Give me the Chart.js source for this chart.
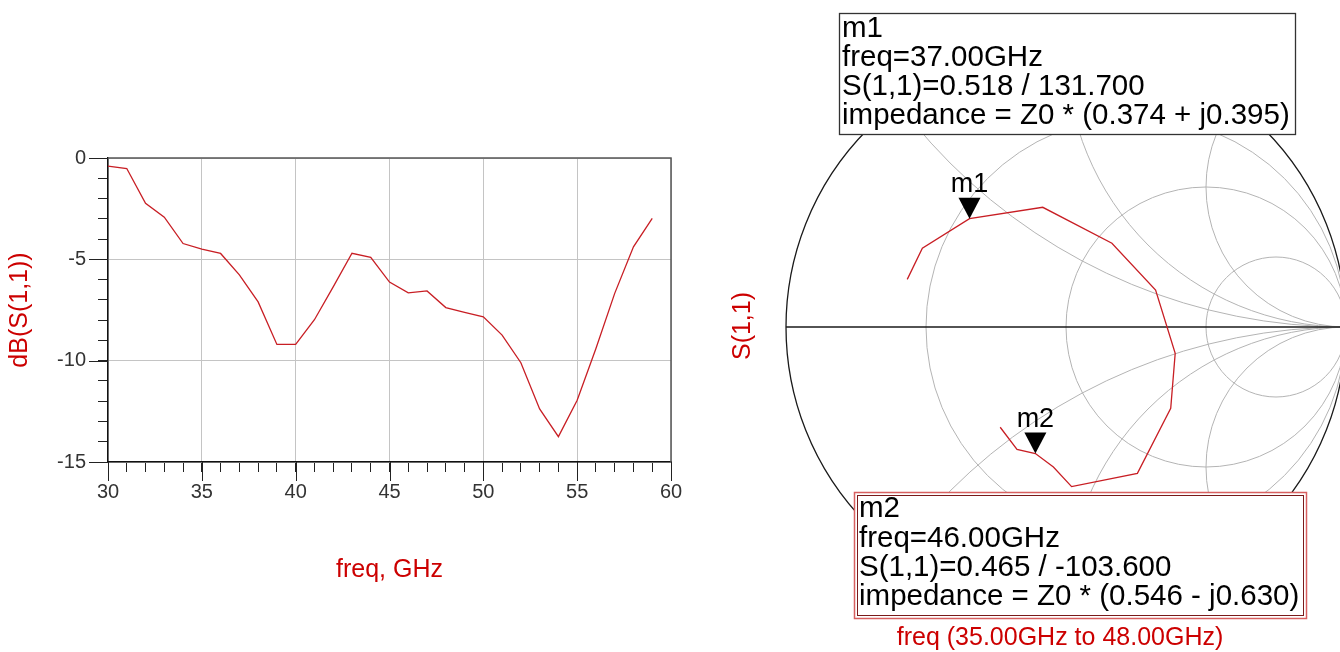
<!DOCTYPE html>
<html>
<head>
<meta charset="utf-8">
<script src="https://cdn.jsdelivr.net/npm/chart.js@4.4.1/dist/chart.umd.min.js"></script>
<style>
html, body { margin: 0; padding: 0; background: #fff; overflow: hidden; width: 1340px; height: 652px; }
#dbChart { position: absolute; left: 0; top: 0; }
#smithChart { position: absolute; left: 700px; top: 0; }
</style>
</head>
<body>
<canvas id="dbChart" width="700" height="652"></canvas>
<canvas id="smithChart" width="660" height="652"></canvas>
<script>
// --- rectangular plot: dB(S(1,1)) vs freq
const freqGHz = [30,31,32,33,34,35,36,37,38,39,40,41,42,43,44,45,46,47,48,49,50,51,52,53,54,55,56,57,58,59];
const dbS11 = [-0.40,-0.52,-2.24,-2.92,-4.22,-4.50,-4.71,-5.77,-7.10,-9.20,-9.20,-7.98,-6.36,-4.70,-4.90,
               -6.12,-6.65,-6.56,-7.38,-7.62,-7.84,-8.74,-10.10,-12.38,-13.75,-11.95,-9.40,-6.68,-4.38,-2.98];
const xTickLabels = [30,35,40,45,50,55,60];
const yTickLabels = [0,-5,-10,-15];

// --- smith chart: S(1,1) from 35 to 48 GHz (real / imag of gamma)
const smithFreq = [35,36,37,38,39,40,41,42,43,44,45,46,47,48];
const s11Re = [-0.567,-0.513,-0.3446,-0.083,0.164,0.320,0.390,0.374,0.255,0.020,-0.045,-0.1093,-0.175,-0.235];
const s11Im = [0.170,0.281,0.3868,0.4275,0.299,0.132,-0.094,-0.290,-0.5225,-0.570,-0.500,-0.4519,-0.437,-0.358];

// markers
const markerName = ['m1','m2'];
const markerFreq = [37,46];
const markerMag = [0.518,0.465];
const markerAng = [131.7,-103.6];
const markerZr = [0.374,0.546];
const markerZx = [0.395,-0.630];

// smith grid
const resCircles = [1/3, 1, 3];
const reactArcs = [0.5, 1, 2];

const RED = '#cc0000';
const LINE_RED = '#c81e24';
const FONT = '"Liberation Sans", Arial, sans-serif';

// ---------- left chart ----------
const plotFrame = {
  id: 'plotFrame',
  afterDraw(chart) {
    const {ctx, chartArea: a, scales: {x, y}} = chart;
    ctx.save();
    ctx.strokeStyle = '#555';
    ctx.lineWidth = 1.5;
    ctx.beginPath();
    ctx.moveTo(a.left, a.top); ctx.lineTo(a.right, a.top); ctx.lineTo(a.right, a.bottom);
    ctx.stroke();
    // longer major ticks
    ctx.strokeStyle = '#222';
    ctx.lineWidth = 1;
    xTickLabels.forEach(v => {
      const p = Math.round(x.getPixelForValue(v)) + 0.5;
      ctx.beginPath(); ctx.moveTo(p, a.bottom); ctx.lineTo(p, a.bottom + 19); ctx.stroke();
    });
    yTickLabels.forEach(v => {
      const p = Math.round(y.getPixelForValue(v)) + 0.5;
      ctx.beginPath(); ctx.moveTo(a.left, p); ctx.lineTo(a.left - 19, p); ctx.stroke();
    });
    ctx.restore();
  }
};

new Chart(document.getElementById('dbChart'), {
  type: 'scatter',
  data: {
    datasets: [{
      data: freqGHz.map((f, i) => ({x: f, y: dbS11[i]})),
      showLine: true,
      borderColor: LINE_RED,
      borderWidth: 1.3,
      pointRadius: 0,
      tension: 0
    }]
  },
  options: {
    responsive: false,
    animation: false,
    layout: { padding: { left: 0, top: 158, right: 29, bottom: 0 } },
    plugins: { legend: { display: false }, tooltip: { enabled: false } },
    scales: {
      x: {
        type: 'linear', min: 30, max: 60,
        afterFit: s => { s.height = 190; },
        ticks: {
          stepSize: 1, autoSkip: false, maxRotation: 0, padding: 8,
          color: '#333', font: { family: FONT, size: 20 },
          callback: v => xTickLabels.includes(v) ? String(v) : ''
        },
        grid: {
          color: c => c.tick && xTickLabels.includes(c.tick.value) ? '#c4c4c4' : 'rgba(0,0,0,0)',
          tickColor: '#222', tickLength: 10, lineWidth: 1
        },
        border: { color: '#111', width: 1.5 },
        title: {
          display: true, text: 'freq, GHz', color: RED,
          font: { family: FONT, size: 25 }, padding: { top: 0, bottom: 67 }
        }
      },
      y: {
        type: 'linear', min: -15, max: 0,
        afterFit: s => { s.width = 108; },
        ticks: {
          stepSize: 1, autoSkip: false, padding: 12,
          color: '#333', font: { family: FONT, size: 20 },
          callback: v => yTickLabels.includes(v) ? String(v) : ''
        },
        grid: {
          color: c => c.tick && yTickLabels.includes(c.tick.value) ? '#c4c4c4' : 'rgba(0,0,0,0)',
          tickColor: '#222', tickLength: 10, lineWidth: 1
        },
        border: { color: '#111', width: 1.5 },
        title: {
          display: true, text: 'dB(S(1,1))', color: RED,
          font: { family: FONT, size: 25 }, padding: { top: 5, bottom: 0 }
        }
      }
    }
  },
  plugins: [plotFrame]
});

// ---------- smith chart ----------
const OFF = 700; // canvas left offset on the page

function markerText(i) {
  const zs = markerZx[i] < 0 ? ' - j' : ' + j';
  return [
    markerName[i],
    'freq=' + markerFreq[i].toFixed(2) + 'GHz',
    'S(1,1)=' + markerMag[i].toFixed(3) + ' / ' + markerAng[i].toFixed(3),
    'impedance = Z0 * (' + markerZr[i].toFixed(3) + zs + Math.abs(markerZx[i]).toFixed(3) + ')'
  ];
}
const markerGamma = markerMag.map((m, i) => ({
  x: m * Math.cos(markerAng[i] * Math.PI / 180),
  y: m * Math.sin(markerAng[i] * Math.PI / 180)
}));

const smithGrid = {
  id: 'smithGrid',
  beforeDatasetsDraw(chart) {
    const {ctx, scales: {x, y}} = chart;
    const px = v => x.getPixelForValue(v), py = v => y.getPixelForValue(v);
    const unit = px(1) - px(0);
    ctx.save();
    ctx.beginPath(); ctx.arc(px(0), py(0), unit, 0, 2 * Math.PI); ctx.clip();
    ctx.strokeStyle = '#b4b4b4';
    ctx.lineWidth = 1;
    resCircles.forEach(r => {
      ctx.beginPath(); ctx.arc(px(r / (1 + r)), py(0), unit / (1 + r), 0, 2 * Math.PI); ctx.stroke();
    });
    reactArcs.forEach(xv => [xv, -xv].forEach(s => {
      ctx.beginPath(); ctx.arc(px(1), py(1 / s), unit / Math.abs(s), 0, 2 * Math.PI); ctx.stroke();
    }));
    ctx.restore();
    ctx.save();
    ctx.strokeStyle = '#1a1a1a';
    ctx.lineWidth = 1.3;
    ctx.beginPath(); ctx.arc(px(0), py(0), unit, 0, 2 * Math.PI); ctx.stroke();
    ctx.beginPath(); ctx.moveTo(px(-1), py(0)); ctx.lineTo(px(1), py(0)); ctx.stroke();
    ctx.restore();
  },
  afterDraw(chart) {
    const {ctx, scales: {x, y}} = chart;
    ctx.save();
    // marker triangles + names
    markerGamma.forEach((g, i) => {
      const tx = x.getPixelForValue(g.x), ty = y.getPixelForValue(g.y);
      ctx.fillStyle = '#000';
      ctx.beginPath();
      ctx.moveTo(tx, ty); ctx.lineTo(tx - 11, ty - 21); ctx.lineTo(tx + 11, ty - 21); ctx.closePath();
      ctx.fill();
      ctx.font = '27px ' + FONT;
      ctx.textAlign = 'center';
      ctx.textBaseline = 'alphabetic';
      ctx.fillText(markerName[i], tx, ty - 27);
    });
    // marker boxes
    const boxes = [
      {l: 839.5, t: 13.5, r: 1295.5, b: 134.5, tx: 842, base: [37, 66, 95, 124], dbl: false},
      {l: 854.5, t: 492.5, r: 1306.5, b: 618.5, tx: 859, base: [517, 546.5, 575.5, 605], dbl: true}
    ];
    boxes.forEach((bx, i) => {
      const l = bx.l - OFF, r = bx.r - OFF;
      ctx.fillStyle = '#fff';
      ctx.fillRect(l, bx.t, r - l, bx.b - bx.t);
      if (bx.dbl) {
        ctx.strokeStyle = '#d86060'; ctx.lineWidth = 1.5;
        ctx.strokeRect(l, bx.t, r - l, bx.b - bx.t);
        ctx.strokeStyle = '#7a1a1a'; ctx.lineWidth = 1;
        ctx.strokeRect(l + 3, bx.t + 3, r - l - 6, bx.b - bx.t - 6);
      } else {
        ctx.strokeStyle = '#333'; ctx.lineWidth = 1.3;
        ctx.strokeRect(l, bx.t, r - l, bx.b - bx.t);
      }
      ctx.fillStyle = '#000';
      ctx.font = '29.5px ' + FONT;
      ctx.textAlign = 'left';
      ctx.textBaseline = 'alphabetic';
      markerText(i).forEach((s, k) => ctx.fillText(s, bx.tx - OFF, bx.base[k]));
    });
    // axis captions
    ctx.fillStyle = RED;
    ctx.font = '25px ' + FONT;
    ctx.textAlign = 'center';
    ctx.textBaseline = 'middle';
    ctx.fillText('freq (' + smithFreq[0].toFixed(2) + 'GHz to ' + smithFreq[smithFreq.length - 1].toFixed(2) + 'GHz)', 1060 - OFF, 638);
    ctx.translate(743 - OFF, 326);
    ctx.rotate(-Math.PI / 2);
    ctx.fillText('S(1,1)', 0, 0);
    ctx.restore();
  }
};

new Chart(document.getElementById('smithChart'), {
  type: 'scatter',
  data: {
    datasets: [{
      data: smithFreq.map((f, i) => ({x: s11Re[i], y: s11Im[i]})),
      showLine: true,
      borderColor: LINE_RED,
      borderWidth: 1.3,
      pointRadius: 0,
      tension: 0
    }]
  },
  options: {
    responsive: false,
    animation: false,
    layout: { padding: { left: 86, top: 47, right: 14, bottom: 45 } },
    plugins: { legend: { display: false }, tooltip: { enabled: false } },
    scales: {
      x: { type: 'linear', min: -1, max: 1, display: false },
      y: { type: 'linear', min: -1, max: 1, display: false }
    }
  },
  plugins: [smithGrid]
});
</script>
</body>
</html>
